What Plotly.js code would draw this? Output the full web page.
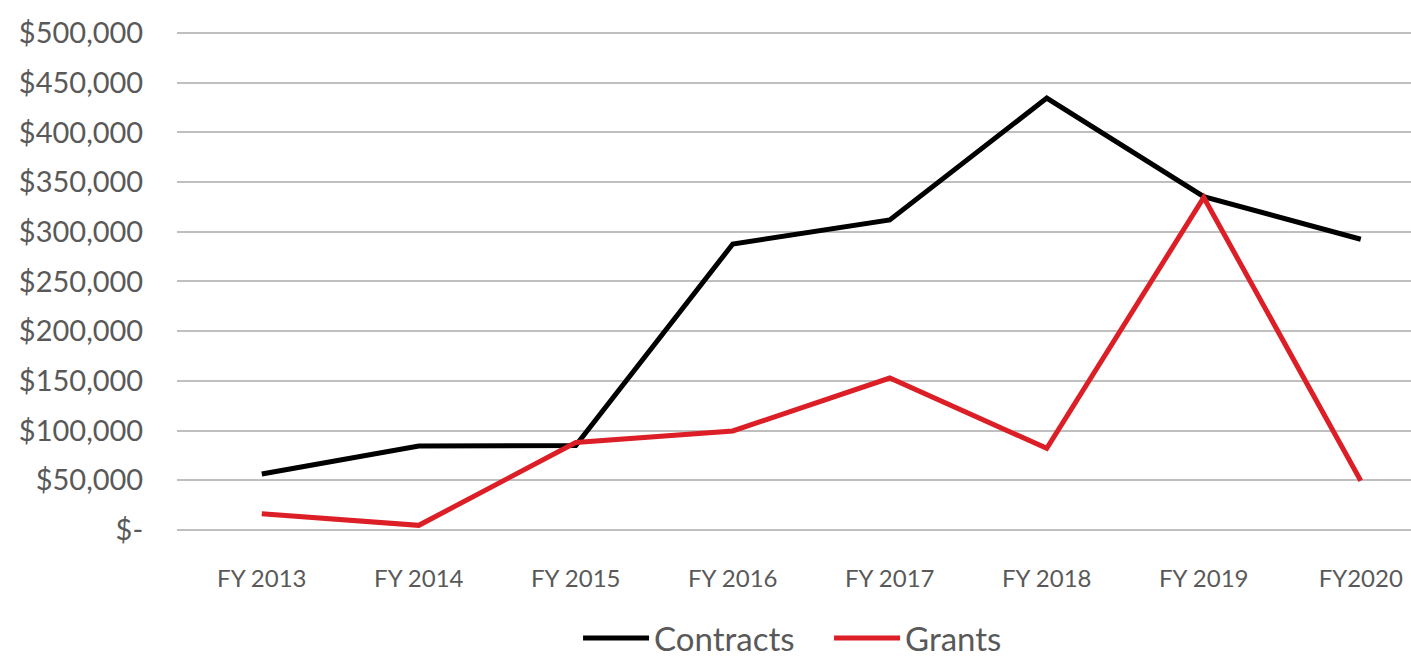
<!DOCTYPE html>
<html>
<head>
<meta charset="utf-8">
<script src="https://cdn.plot.ly/plotly-3.0.1.min.js"></script>
<style>html,body{margin:0;padding:0;background:#fff;}#chart{width:1411px;height:658px;}</style>
</head>
<body>
<div id="chart"></div>
<script>
const categories = ["FY 2013", "FY 2014", "FY 2015", "FY 2016", "FY 2017", "FY 2018", "FY 2019", "FY2020"];
const contracts = [56300, 84500, 85000, 287700, 311900, 434500, 335300, 292500];
const grants = [16400, 4700, 88000, 99600, 152900, 82200, 334500, 49600];
const yTickVals = [0, 50000, 100000, 150000, 200000, 250000, 300000, 350000, 400000, 450000, 500000];
const yTickText = ["$-", "$50,000", "$100,000", "$150,000", "$200,000", "$250,000", "$300,000", "$350,000", "$400,000", "$450,000", "$500,000"];

const font = "Lato, 'Open Sans', sans-serif";
const traces = [
  {x: categories, y: contracts, name: "Contracts", type: "scatter", mode: "lines",
   line: {color: "#000000", width: 5}},
  {x: categories, y: grants, name: "Grants", type: "scatter", mode: "lines",
   line: {color: "#dc1f26", width: 5}}
];
const layout = {
  width: 1411, height: 658,
  margin: {l: 177, r: 0, t: 28, b: 128},
  paper_bgcolor: "#ffffff", plot_bgcolor: "#ffffff",
  font: {family: font, color: "#595959"},
  showlegend: true,
  legend: {orientation: "h", x: 0.325, xanchor: "left", xref: "paper",
           y: 0.0304, yanchor: "middle", yref: "container",
           font: {size: 33, color: "#595959"}, itemwidth: 66,
           entrywidth: 170, entrywidthmode: "pixels"},
  xaxis: {type: "category", range: [-0.54, 7.32], showgrid: false, zeroline: false,
          showline: false, ticks: "outside", ticklen: 27, tickcolor: "rgba(0,0,0,0)",
          tickfont: {size: 24, color: "#595959"}, fixedrange: true},
  yaxis: {range: [0, 505000], tickvals: yTickVals, ticktext: yTickText,
          showgrid: true, gridcolor: "#bfbfbf", gridwidth: 2,
          zeroline: true, zerolinecolor: "#bfbfbf", zerolinewidth: 2,
          showline: false, ticks: "outside", ticklen: 27, tickcolor: "rgba(0,0,0,0)",
          tickfont: {size: 29, color: "#595959"}, fixedrange: true}
};
Plotly.newPlot("chart", traces, layout, {displayModeBar: false, staticPlot: true});
</script>
</body>
</html>
